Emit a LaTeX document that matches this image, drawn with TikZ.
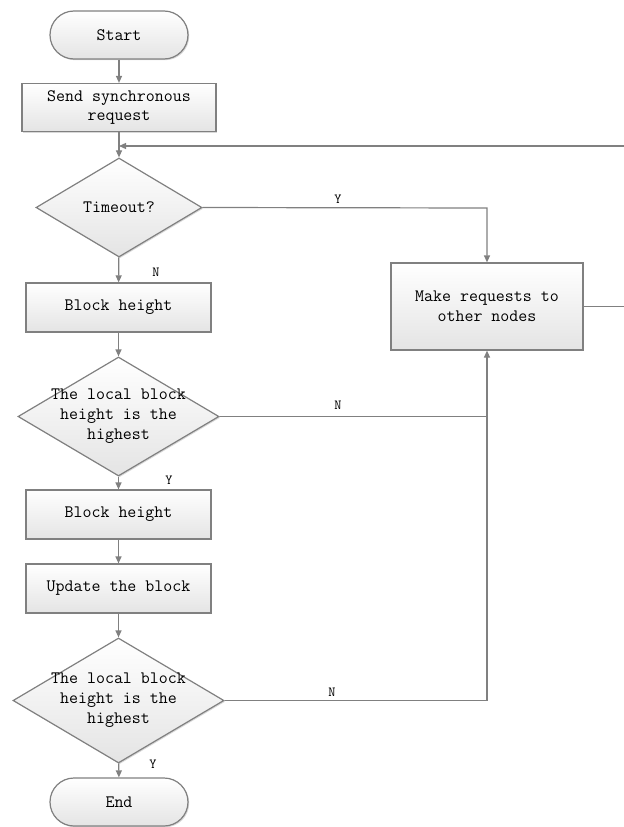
\documentclass[tikz,border=0pt]{standalone}
\usepackage{fontspec}
\usetikzlibrary{shapes.geometric,arrows.meta,shadows}
\definecolor{edge}{HTML}{808080}
\definecolor{shadeb}{HTML}{E4E4E4}
\begin{document}
\begin{tikzpicture}[x=1bp,y=-1bp,
  font=\ttfamily\fontsize{17.5}{20}\selectfont,
  base/.style={draw=edge, line width=1.2bp, top color=white, bottom color=shadeb,
    drop shadow={shadow xshift=1.2bp, shadow yshift=-1.2bp, fill=black!25, opacity=0.6},
    align=center, inner sep=0pt},
  terminal/.style={base, rounded corners=24bp, minimum width=138bp, minimum height=48bp},
  procbox/.style={base, rectangle, minimum height=48bp},
  decision/.style={base, diamond, aspect=1.7},
  conn/.style={draw=edge, line width=1.2bp, -{Triangle[length=7bp,width=6bp]}},
  wire/.style={draw=edge, line width=1.2bp},
  yn/.style={font=\ttfamily\fontsize{14}{16}\selectfont, inner sep=0pt}
]
\useasboundingbox (0,0) rectangle (624,827);
\clip (0,0) rectangle (624,827);
\fill[white] (0,0) rectangle (624,827);

% main column
\node[terminal] (start) at (119,35) {Start};
\node[procbox, minimum width=194bp] (send) at (119,107.5) {Send synchronous\\request};
\node[decision, minimum width=166bp, minimum height=99bp] (timeout) at (119,207.5) {};
\node[align=center] at (timeout.center) {Timeout?};
\node[procbox, minimum width=185bp, minimum height=49bp] (bh1) at (118.5,307.5) {Block height};
\node[decision, minimum width=201bp, minimum height=119bp] (local1) at (118.5,416.5) {};
\node[align=center] at (local1.center) {The local block\\height is the\\highest};
\node[procbox, minimum width=185bp, minimum height=49bp] (bh2) at (118.5,514.5) {Block height};
\node[procbox, minimum width=185bp, minimum height=49bp] (update) at (118.5,588.5) {Update the block};
\node[decision, minimum width=211bp, minimum height=125bp] (local2) at (118.5,700.5) {};
\node[align=center] at (local2.center) {The local block\\height is the\\highest};
\node[terminal] (end) at (119,802) {End};

% side process
\node[procbox, minimum width=192bp, minimum height=87bp] (ask) at (487,306.5) {Make requests to\\other nodes};

% loop-back joints
\coordinate (loopin) at (119,146);
\coordinate (yturn) at (487,208);
\coordinate (n1turn) at (487,416.5);
\coordinate (n2turn) at (487,700.5);
\coordinate (rside) at (626,306.5);
\coordinate (rtop) at (626,146);

% vertical flow
\draw[conn] (start) -- (send);
\draw[conn] (send) -- (timeout);
\draw[conn] (timeout) -- (bh1);
\draw[conn] (bh1) -- (local1);
\draw[conn] (local1) -- (bh2);
\draw[conn] (bh2) -- (update);
\draw[conn] (update) -- (local2);
\draw[conn] (local2) -- (end);

% branches to the side process
\draw[conn] (timeout.east) -- (yturn) -- (ask.north);
\draw[wire] (local1.east) -- (n1turn);
\draw[conn] (local2.east) -- (n2turn) -- (ask.south);

% retry loop
\draw[conn] (ask.east) -- (rside) -- (rtop) -- (loopin);

% branch labels
\node[yn] at (156,272) {N};
\node[yn] at (169,480) {Y};
\node[yn] at (153,764) {Y};
\node[yn] at (338,199) {Y};
\node[yn] at (338,405.5) {N};
\node[yn] at (332,692) {N};
\end{tikzpicture}
\end{document}
